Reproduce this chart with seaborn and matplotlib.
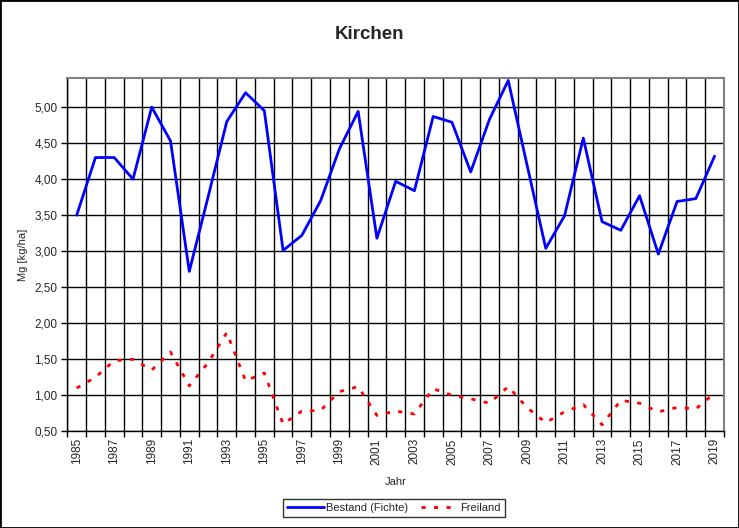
import numpy as np
import pandas as pd
import matplotlib.pyplot as plt
import seaborn as sns
from matplotlib.ticker import MultipleLocator, FuncFormatter

years = list(range(1985, 2020))
bestand = [3.50, 4.30, 4.30, 4.00, 5.00, 4.53, 2.72, 3.75, 4.80, 5.20,
           4.95, 3.01, 3.22, 3.70, 4.42, 4.94, 3.18, 3.97, 3.84, 4.87,
           4.79, 4.10, 4.83, 5.37, 4.20, 3.04, 3.49, 4.57, 3.41, 3.29,
           3.77, 2.96, 3.69, 3.73, 4.32]
freiland = [1.10, 1.25, 1.48, 1.50, 1.35, 1.60, 1.13, 1.45, 1.87, 1.20,
            1.31, 0.60, 0.78, 0.79, 1.05, 1.12, 0.72, 0.78, 0.74, 1.09,
            1.00, 0.95, 0.89, 1.12, 0.83, 0.62, 0.77, 0.87, 0.59, 0.93,
            0.89, 0.77, 0.83, 0.81, 1.03]

df = pd.DataFrame({"Jahr": years, "Bestand (Fichte)": bestand, "Freiland": freiland})

sns.set_style("white")
plt.rcParams['font.family'] = ['Liberation Sans', 'DejaVu Sans']

fig = plt.figure(figsize=(7.39, 5.28), dpi=100)
ax = fig.add_axes([0.0911, 0.1832, 0.8886, 0.6685])

sns.lineplot(data=df, x="Jahr", y="Bestand (Fichte)", ax=ax, color="#0000ff",
             linewidth=2, label="Bestand (Fichte)")
sns.lineplot(data=df, x="Jahr", y="Freiland", ax=ax, color="#ff0000",
             linewidth=2, linestyle=(0, (1.5, 3)), label="Freiland")

ax.set_xlim(1984.5, 2019.5)
ax.set_ylim(0.5, 5.4)
ax.yaxis.set_major_locator(MultipleLocator(0.5))
ax.yaxis.set_major_formatter(FuncFormatter(lambda v, p: f"{v:.2f}".replace(".", ",")))
ax.set_xticks(years[::2])
ax.set_xticklabels([str(y) for y in years[::2]], rotation=90)
ax.set_xticks(np.arange(1984.5, 2020, 1), minor=True)
ax.tick_params(axis="x", which="major", length=0, labelsize=8.5, pad=5)
ax.tick_params(axis="x", which="minor", length=4, width=1, color="black", direction="out", bottom=True)
ax.tick_params(axis="y", length=4, width=1, color="black", direction="out", left=True, labelsize=8.5, pad=3)

ax.grid(False)
ax.grid(True, axis="x", which="minor", color="black", linewidth=1)
ax.grid(True, axis="y", which="major", color="black", linewidth=1)
ax.set_axisbelow(True)

for side in ["left", "bottom"]:
    ax.spines[side].set_color("black")
    ax.spines[side].set_linewidth(1)
for side in ["top", "right"]:
    ax.spines[side].set_color("#808080")
    ax.spines[side].set_linewidth(1.5)

ax.set_xlabel("Jahr", fontsize=8, labelpad=9)
ax.set_ylabel("Mg [kg/ha]", fontsize=8, labelpad=5)
fig.suptitle("Kirchen", fontsize=13.5, fontweight="bold", y=0.95)

ax.legend_.remove()
handles, labels = ax.get_legend_handles_labels()
leg = fig.legend(handles, labels, loc="center", bbox_to_anchor=(0.533, 0.038), ncol=2,
                 fontsize=8, frameon=True, fancybox=False, edgecolor="black",
                 handlelength=3.3, columnspacing=1.2, borderpad=0.35, handletextpad=0.2)
leg.get_frame().set_linewidth(1)

fig.patches.append(plt.Rectangle((0, 0), 1, 1, transform=fig.transFigure, fill=False,
                                 edgecolor="black", linewidth=2))

fig.savefig("out.png", dpi=100)
